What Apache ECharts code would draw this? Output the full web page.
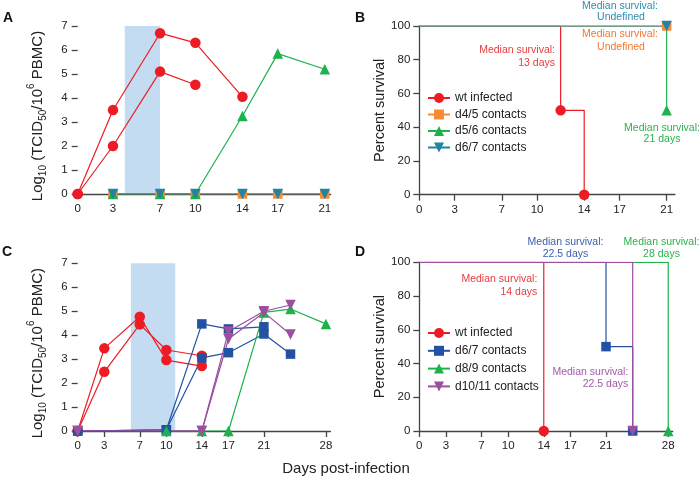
<!DOCTYPE html>
<html><head><meta charset="utf-8">
<script src="https://cdn.jsdelivr.net/npm/echarts@6/dist/echarts.min.js"></script>
<style>html,body{margin:0;padding:0;background:#fff}#c{width:700px;height:486px}</style>
</head><body><div id="c"></div><script>
// ---- tick labels ----
const xTicksAB = [0, 3, 7, 10, 14, 17, 21];
const xTicksCD = [0, 3, 7, 10, 14, 17, 21, 28];
// ---- shaded periods (days) ----
const shadeA = [4, 7];
const shadeC = [6, 11];
// ---- Panel A: viral load ----
const aWt1Days = [0, 3, 7, 10, 14];        const aWt1Vals = [0, 3.5, 6.7, 6.3, 4.05];
const aWt2Days = [0, 3, 7, 10];            const aWt2Vals = [0, 2.0, 5.1, 4.55];
const aD45Days = [3, 7, 10, 14, 17, 21];   const aD45Vals = [0, 0, 0, 0, 0, 0];
const aD56Days = [3, 7, 10, 14, 17, 21];   const aD56Vals = [0, 0, 0, 3.25, 5.85, 5.2];
const aD67Days = [3, 7, 10, 14, 17, 21];   const aD67Vals = [0, 0, 0, 0, 0, 0];
// ---- Panel C: viral load ----
const cWt1Days = [0, 3, 7, 10, 14];        const cWt1Vals = [0, 3.45, 4.77, 2.96, 2.71];
const cWt2Days = [0, 3, 7, 10, 14];        const cWt2Vals = [0, 2.47, 4.45, 3.38, 3.14];
const cD67aDays = [0, 10, 14, 17, 21];     const cD67aVals = [0, 0.05, 4.47, 4.26, 4.35];
const cD67bDays = [0, 10, 14, 17, 21, 24]; const cD67bVals = [0, 0.05, 3.05, 3.27, 4.05, 3.21];
const cD89Days = [10, 14, 17, 21, 24, 28]; const cD89Vals = [0, 0, 0, 4.95, 5.09, 4.47];
const cD1011aDays = [0, 14, 17, 21, 24];   const cD1011aVals = [0, 0, 3.84, 4.95, 4.03];
const cD1011bDays = [0, 14, 17, 21, 24];   const cD1011bVals = [0, 0, 4.15, 5.0, 5.26];
// ---- Panel B: survival ----
const bWtDays = [0, 12, 14];  const bWtSurv = [100, 50, 0];  const bWtMark = [0, 1, 1];
const bD45Days = [0, 21];     const bD45Surv = [100, 100];   const bD45Mark = [0, 1];
const bD56Days = [0, 21];     const bD56Surv = [100, 50];    const bD56Mark = [0, 1];
const bD67Days = [0, 21];     const bD67Surv = [100, 100];   const bD67Mark = [0, 1];
// ---- Panel D: survival ----
const dWtDays = [0, 14];        const dWtSurv = [100, 0];       const dWtMark = [0, 1];
const dD67Days = [0, 21, 24];   const dD67Surv = [100, 50, 0];  const dD67Mark = [0, 1, 1];
const dD89Days = [0, 28];       const dD89Surv = [100, 0];      const dD89Mark = [0, 1];
const dD1011Days = [0, 24];     const dD1011Surv = [100, 0];    const dD1011Mark = [0, 1];

const FONT = 'Liberation Sans, Arial, sans-serif';
const RED = '#ed1c24', ORANGE = '#f68b33', GREEN = '#1db24b', TEAL = '#2383a3', BLUE = '#2352a3', PURPLE = '#9b4f9f';
const AX = '#444';

function sym(kind) {
  if (kind === 'circle') return { symbol: 'circle', symbolSize: 10.5 };
  if (kind === 'square') return { symbol: 'rect', symbolSize: 9.5 };
  if (kind === 'up') return { symbol: 'triangle', symbolSize: 10.5 };
  return { symbol: 'triangle', symbolSize: 10.5, symbolRotate: 180 };
}
function line(name, idx, xs, ys, color, kind, extra) {
  const s = Object.assign({
    type: 'line', name: name, xAxisIndex: idx, yAxisIndex: idx,
    data: xs.map((x, i) => [x, ys[i]]),
    lineStyle: { color: color, width: 1.2 },
    itemStyle: { color: color },
    showSymbol: true, animation: false, z: 3, silent: true
  }, sym(kind), extra || {});
  return s;
}
function surv(name, idx, xs, ys, marks, color, kind) {
  const s = line(name, idx, xs, ys, color, kind, { step: 'end' });
  s.data = xs.map((x, i) => marks[i] ? [x, ys[i]] : { value: [x, ys[i]], symbol: 'none' });
  return s;
}
function shade(idx, range) {
  return {
    type: 'line', name: 'shade' + idx, xAxisIndex: idx, yAxisIndex: idx, data: [], z: 1, silent: true,
    markArea: { silent: true, itemStyle: { color: '#c3dcf1', opacity: 1 }, data: [[{ xAxis: range[0] }, { xAxis: range[1] }]] }
  };
}

const grids = [
  { left: 77.7, top: 26, width: 253, height: 168 },
  { left: 419.3, top: 26, width: 255.6, height: 168.7 },
  { left: 77.7, top: 263.3, width: 252.7, height: 167.7 },
  { left: 419.3, top: 262.3, width: 253.4, height: 168.7 }
];
const lab = { color: '#222', fontSize: 11.5, fontFamily: FONT };
function xAx(idx, max, ticks, showTick) {
  return {
    type: 'value', gridIndex: idx, min: 0, max: max,
    axisLine: { show: true, lineStyle: { color: AX, width: 1.3 } },
    axisTick: { show: showTick, length: 6, customValues: ticks, lineStyle: { color: AX, width: 1.3 } },
    axisLabel: Object.assign({ margin: 9, customValues: ticks }, lab),
    splitLine: { show: false }
  };
}
const vName = '{n|Log}{sb|10}{n| (TCID}{sb|50}{n|/10}{sp|6}{n| PBMC)}';
const vRich = {
  n: { fontSize: 15, fontFamily: FONT, color: '#222', lineHeight: 22, verticalAlign: 'middle' },
  sb: { fontSize: 10, fontFamily: FONT, color: '#222', lineHeight: 11, verticalAlign: 'bottom' },
  sp: { fontSize: 10, fontFamily: FONT, color: '#222', lineHeight: 11, verticalAlign: 'top' }
};
function yVir(idx) {
  return {
    type: 'value', gridIndex: idx, min: 0, max: 7, interval: 1,
    name: vName, nameLocation: 'middle', nameRotate: 90, nameGap: 29,
    nameTextStyle: { rich: vRich, fontFamily: FONT, padding: [0, 12, 0, 0] },
    axisLine: { show: false },
    axisTick: { show: true, length: 6, lineStyle: { color: AX, width: 1.3 } },
    axisLabel: Object.assign({ margin: 10 }, lab),
    splitLine: { show: false }
  };
}
function ySurv(idx) {
  return {
    type: 'value', gridIndex: idx, min: 0, max: 100, interval: 20,
    name: 'Percent survival', nameLocation: 'middle', nameRotate: 90, nameGap: 30,
    nameTextStyle: { fontSize: 14.5, fontFamily: FONT, color: '#222' },
    axisLine: { show: true, lineStyle: { color: AX, width: 1.3 } },
    axisTick: { show: true, length: 6, lineStyle: { color: AX, width: 1.3 } },
    axisLabel: Object.assign({ margin: 9 }, lab),
    splitLine: { show: false }
  };
}

const series = [
  shade(0, shadeA),
  line('A wt 1', 0, aWt1Days, aWt1Vals, RED, 'circle'),
  line('A wt 2', 0, aWt2Days, aWt2Vals, RED, 'circle'),
  line('A d4/5', 0, aD45Days, aD45Vals, ORANGE, 'square'),
  line('A d5/6', 0, aD56Days, aD56Vals, GREEN, 'up'),
  line('A d6/7', 0, aD67Days, aD67Vals, TEAL, 'down'),

  surv('wt infected', 1, bWtDays, bWtSurv, bWtMark, RED, 'circle'),
  surv('d5/6 contacts', 1, bD56Days, bD56Surv, bD56Mark, GREEN, 'up'),
  surv('d4/5 contacts', 1, bD45Days, bD45Surv, bD45Mark, ORANGE, 'square'),
  surv('d6/7 contacts', 1, bD67Days, bD67Surv, bD67Mark, TEAL, 'down'),

  shade(2, shadeC),
  line('C wt 1', 2, cWt1Days, cWt1Vals, RED, 'circle'),
  line('C wt 2', 2, cWt2Days, cWt2Vals, RED, 'circle'),
  line('C d6/7 a', 2, cD67aDays, cD67aVals, BLUE, 'square'),
  line('C d6/7 b', 2, cD67bDays, cD67bVals, BLUE, 'square'),
  line('C d8/9', 2, cD89Days, cD89Vals, GREEN, 'up'),
  line('C d10/11 a', 2, cD1011aDays, cD1011aVals, PURPLE, 'down'),
  line('C d10/11 b', 2, cD1011bDays, cD1011bVals, PURPLE, 'down'),

  surv('wt infected ', 3, dWtDays, dWtSurv, dWtMark, RED, 'circle'),
  surv('d8/9 contacts', 3, dD89Days, dD89Surv, dD89Mark, GREEN, 'up'),
  surv('d6/7 contacts ', 3, dD67Days, dD67Surv, dD67Mark, BLUE, 'square'),
  surv('d10/11 contacts', 3, dD1011Days, dD1011Surv, dD1011Mark, PURPLE, 'down')
];

function legend(names, top, gap) {
  return {
    data: names, orient: 'vertical', left: 427, top: top, itemGap: gap, padding: 0,
    itemWidth: 22, itemHeight: 12.5, selectedMode: false,
    textStyle: { fontSize: 12, fontFamily: FONT, color: '#222', lineHeight: 12 }
  };
}
function txt(text, x, y, color, align) {
  return { type: 'text', x: x, y: y, silent: true, z: 10,
    style: { text: text, fill: color, font: '10.5px ' + FONT, align: align, verticalAlign: 'middle' } };
}
function big(text, x, y, opts) {
  return { type: 'text', x: x, y: y, silent: true,
    style: Object.assign({ text: text, fill: '#111', align: 'center', verticalAlign: 'middle' }, opts) };
}

const option = {
  backgroundColor: '#fff',
  animation: false,
  grid: grids,
  xAxis: [xAx(0, 21.5, xTicksAB, false), xAx(1, 21.7, xTicksAB, true), xAx(2, 28.5, xTicksCD, true), xAx(3, 28.5, xTicksCD, true)],
  yAxis: [yVir(0), ySurv(1), yVir(2), ySurv(3)],
  legend: [
    legend(['wt infected', 'd4/5 contacts', 'd5/6 contacts', 'd6/7 contacts'], 92, 4.5),
    legend(['wt infected ', 'd6/7 contacts ', 'd8/9 contacts', 'd10/11 contacts'], 327, 5.8)
  ],
  series: series,
  graphic: [
    big('A', 8, 18, { font: 'bold 14px ' + FONT }),
    big('B', 360, 18, { font: 'bold 14px ' + FONT }),
    big('C', 7, 252, { font: 'bold 14px ' + FONT }),
    big('D', 360, 252, { font: 'bold 14px ' + FONT }),
    big('Days post-infection', 346, 469, { font: '15px ' + FONT, fill: '#222' }),
    txt('Median survival:', 620, 5.7, '#2c8db0', 'center'),
    txt('Undefined', 621, 17.3, '#2c8db0', 'center'),
    txt('Median survival:', 620, 34.3, '#f0782d', 'center'),
    txt('Undefined', 621, 46.7, '#f0782d', 'center'),
    txt('Median survival:', 555, 50.3, '#e63b3f', 'right'),
    txt('13 days', 555, 62.7, '#e63b3f', 'right'),
    txt('Median survival:', 662, 127.7, '#2bb24f', 'center'),
    txt('21 days', 662, 139.3, '#2bb24f', 'center'),
    txt('Median survival:', 565.5, 241.7, '#3a5fae', 'center'),
    txt('22.5 days', 565.5, 254, '#3a5fae', 'center'),
    txt('Median survival:', 661.5, 241.7, '#2bb24f', 'center'),
    txt('28 days', 661.5, 254, '#2bb24f', 'center'),
    txt('Median survival:', 537.3, 279, '#e63b3f', 'right'),
    txt('14 days', 537.3, 291.7, '#e63b3f', 'right'),
    txt('Median survival:', 628.3, 371.7, '#a35aa8', 'right'),
    txt('22.5 days', 628.3, 384, '#a35aa8', 'right')
  ]
};
const chart = echarts.init(document.getElementById('c'), null, { renderer: 'canvas' });
chart.setOption(option);
</script></body></html>
